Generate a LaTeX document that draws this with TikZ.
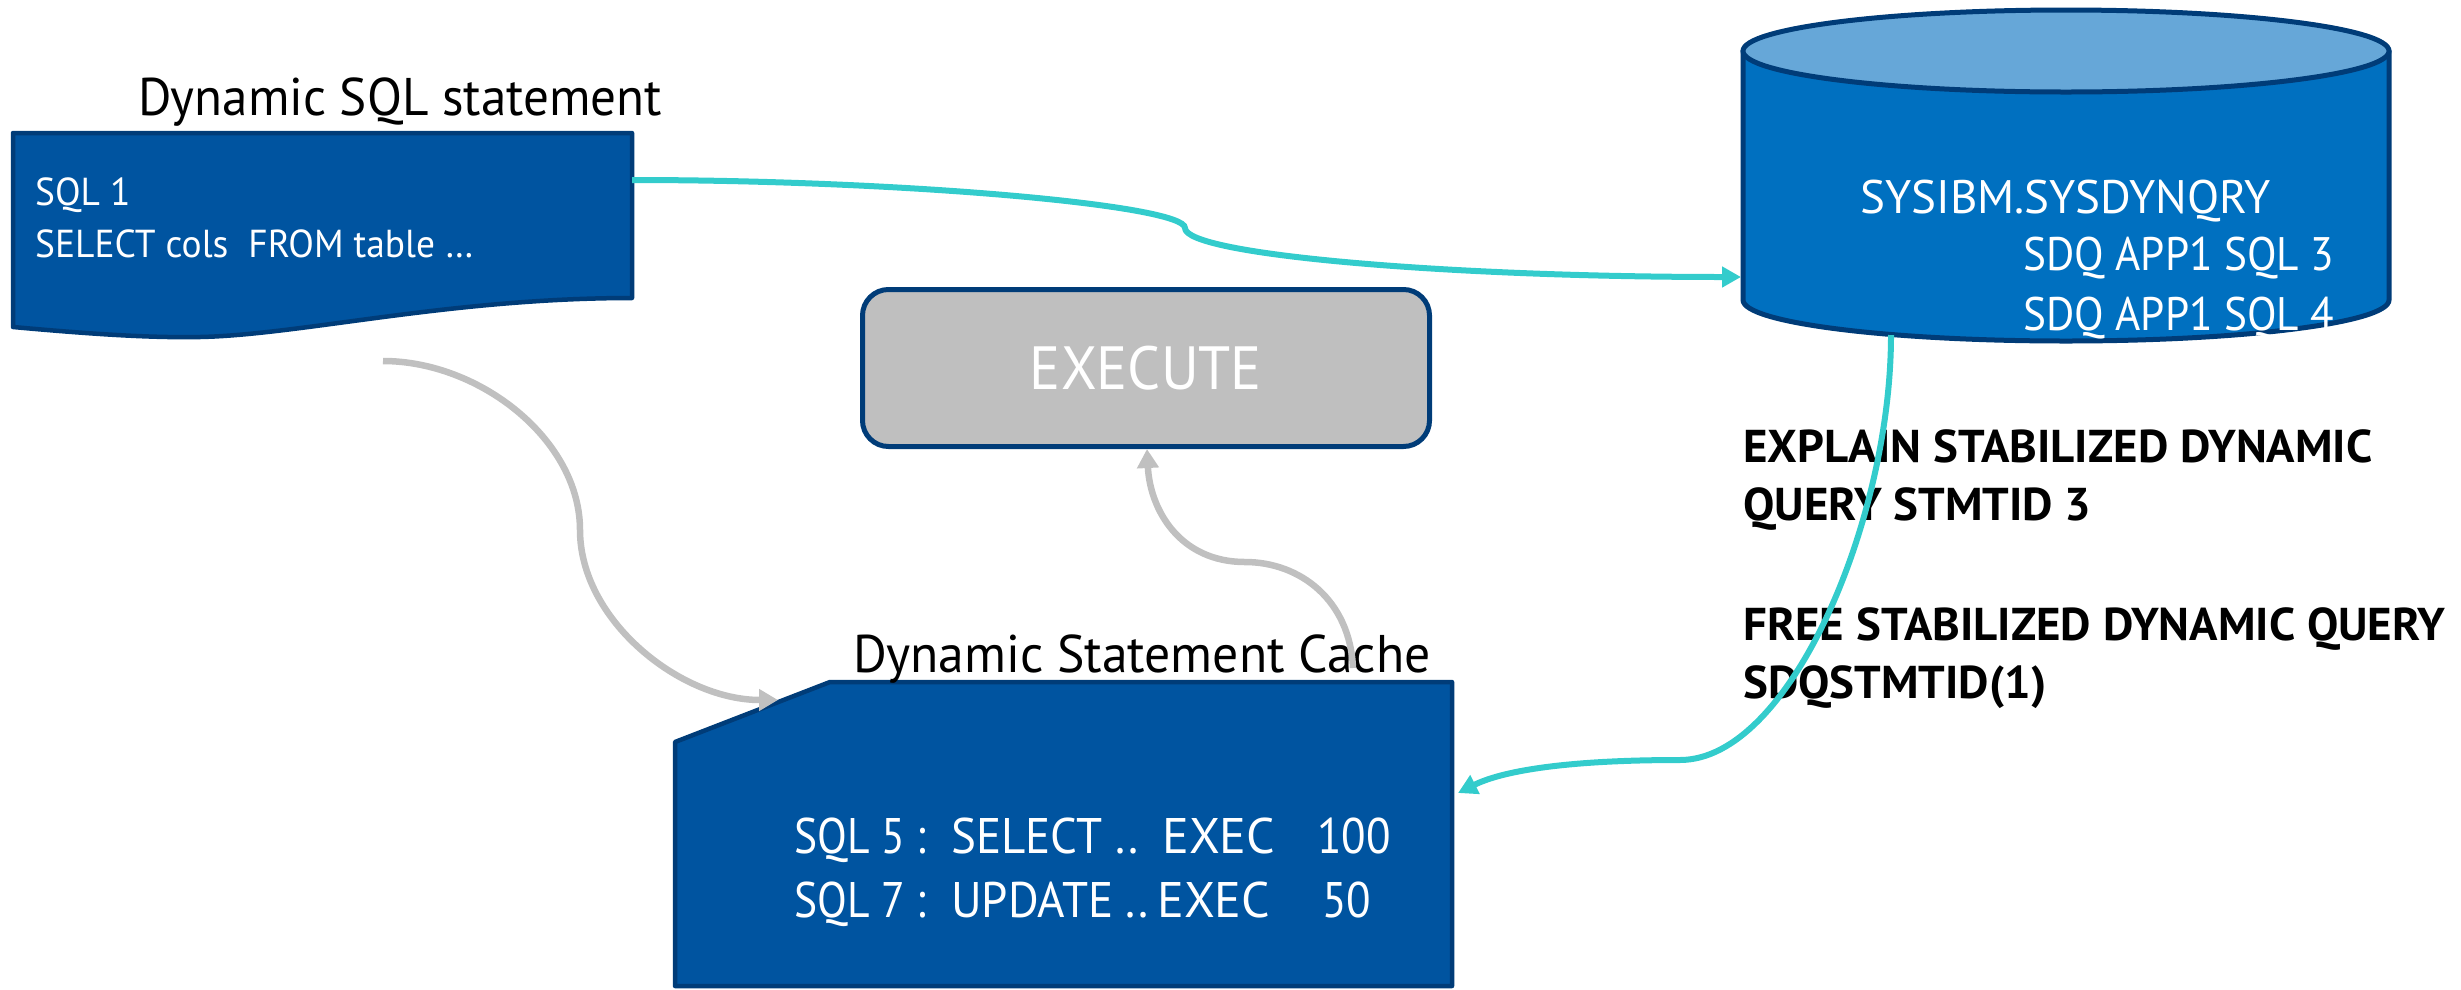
\documentclass[tikz,border=0pt]{standalone}
\usepackage{fontspec}
\usepackage{graphicx}
\setmainfont{PT Sans}
\usetikzlibrary{arrows.meta}
\definecolor{docblue}{HTML}{0054A0}
\definecolor{edgeblue}{HTML}{003C78}
\definecolor{cylside}{HTML}{0070C0}
\definecolor{cyltop}{HTML}{66A7D8}
\definecolor{execgray}{HTML}{BFBFBF}
\definecolor{teal}{HTML}{33CCCC}
\definecolor{arrgray}{HTML}{C0C0C0}
\newcommand\myfs[1]{\fontsize{#1}{#1}\selectfont}
\newcommand\hsq[2]{\scalebox{#1}[1]{#2}}
\begin{document}
\begin{tikzpicture}[x=1pt,y=-1pt,
  lbl/.style={inner sep=0pt, anchor=base west},
  wlbl/.style={lbl, text=white},
  blueshape/.style={fill=docblue, draw=edgeblue, line width=4.5pt, line join=round},
  tealarrow/.style={draw=teal, line width=6pt, -{Triangle[length=19pt,width=20pt]}},
  grayarrow/.style={draw=arrgray, line width=6.5pt, -{Triangle[length=19pt,width=21pt]}},
  execbox/.style={fill=execgray, draw=edgeblue, line width=5pt, rounded corners=26pt,
    minimum width=567pt, minimum height=157pt, inner sep=0pt, text=white}]
\useasboundingbox (0,0) rectangle (2461,989);

% Dynamic SQL statement (document shape)
\path[blueshape] (13,133) -- (632,133) -- (632,298)
  .. controls (450,298) and (300,335) .. (200,337)
  .. controls (150,338) and (90,334) .. (13,327) -- cycle;
\coordinate (docE) at (632,180);
\coordinate (docB) at (383,361);
\node[lbl] (doctitle) at (138,115) {\myfs{53}\hsq{0.965}{Dynamic SQL statement}};
\node[wlbl] (sql1) at (35,205) {\myfs{39}\hsq{0.96}{SQL 1}};
\node[wlbl] (sqlsel) at (35,257) {\myfs{39}\hsq{0.96}{SELECT cols\ \ FROM table …}};

% Cylinder SYSIBM.SYSDYNQRY
\path[fill=cylside, draw=edgeblue, line width=5pt, line join=round]
  (1743,51) -- (1743,300) arc[start angle=180, end angle=0, x radius=323, y radius=41] -- (2389,51) -- cycle;
\draw[fill=cyltop, draw=edgeblue, line width=5pt] (2066,51) ellipse[x radius=323, y radius=41];
\coordinate (cylW) at (1741,277);
\coordinate (cylB) at (1891,335);
\node[wlbl] (sysdyn) at (1860,213) {\myfs{47}SYSIBM.SYSDYNQRY};
\node[wlbl] (sdq3) at (2023,270) {\myfs{47}\hsq{0.92}{SDQ APP1 SQL 3}};
\node[wlbl] (sdq4) at (2023,330) {\myfs{47}\hsq{0.92}{SDQ APP1 SQL 4}};

% EXECUTE
\node[execbox] (exec) at (1146,368) {\myfs{61}\hsq{0.95}{EXECUTE}};

% Dynamic Statement Cache (snipped corner)
\path[blueshape] (830,682) -- (1452,682) -- (1452,986) -- (675,986) -- (675,742) -- cycle;
\coordinate (cacheNW) at (778,700);
\coordinate (cacheE) at (1458,793);
\coordinate (cacheT) at (1353,668);
\node[lbl] (cachetitle) at (853,672) {\myfs{53}\hsq{0.975}{Dynamic Statement Cache}};
\node[wlbl] (c1a) at (794,853) {\myfs{50}\hsq{0.87}{SQL 5 :}};
\node[wlbl] (c1b) at (951,853) {\myfs{50}\hsq{0.94}{SELECT ..}};
\node[wlbl] (c1c) at (1162,853) {\myfs{50}EXEC};
\node[wlbl] (c1d) at (1317,853) {\myfs{50}\hsq{0.9}{100}};
\node[wlbl] (c2a) at (794,917) {\myfs{50}\hsq{0.87}{SQL 7 :}};
\node[wlbl] (c2b) at (951,917) {\myfs{50}\hsq{0.94}{UPDATE ..}};
\node[wlbl] (c2c) at (1157,917) {\myfs{50}EXEC};
\node[wlbl] (c2d) at (1322,917) {\myfs{50}\hsq{0.9}{50}};

% Bold commands
\node[lbl] (expl1) at (1743,462) {\myfs{46}\bfseries\hsq{1.02}{EXPLAIN STABILIZED DYNAMIC}};
\node[lbl] (expl2) at (1743,520) {\myfs{46}\bfseries\hsq{1.02}{QUERY STMTID 3}};
\node[lbl] (free1) at (1743,640) {\myfs{46}\bfseries\hsq{1.02}{FREE STABILIZED DYNAMIC QUERY}};
\node[lbl] (free2) at (1743,698) {\myfs{46}\bfseries\hsq{1.02}{SDQSTMTID(1)}};

% Connectors
\draw[tealarrow] (docE) .. controls (900,180) and (1185,205) .. (1185,228)
  .. controls (1185,255) and (1450,277) .. (cylW);
\draw[tealarrow] (cylB) .. controls (1891,520) and (1790,760) .. (1680,760)
  .. controls (1560,760) and (1500,772) .. (cacheE);
\draw[grayarrow] (docB) .. controls (480,361) and (580,440) .. (580,530)
  .. controls (580,620) and (680,700) .. (cacheNW);
\draw[grayarrow] (cacheT) .. controls (1350,600) and (1300,562) .. (1245,562)
  .. controls (1180,562) and (1150,510) .. (exec.south -| 1147,0);
\end{tikzpicture}
\end{document}
